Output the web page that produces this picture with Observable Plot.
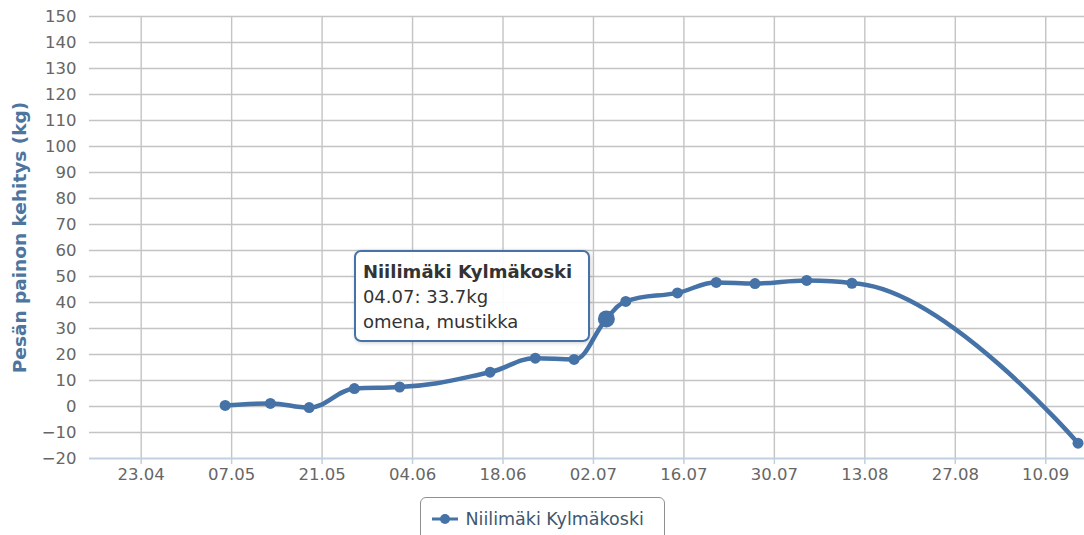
<!DOCTYPE html>
<html><head><meta charset="utf-8">
<script src="https://cdn.jsdelivr.net/npm/d3@7"></script>
<script src="https://cdn.jsdelivr.net/npm/@observablehq/plot@0.6"></script>
<style>
body{margin:0;background:#fff;font-family:"DejaVu Sans",Verdana,sans-serif;}
#wrap{position:relative;width:1084px;height:535px;overflow:hidden;}
.tip{position:absolute;box-sizing:border-box;border:2px solid #4572A7;border-radius:7px;background:rgba(255,255,255,0.92);box-shadow:1px 1px 4px rgba(0,0,0,0.18);padding:7px 0 0 7px;color:#333;font-size:18px;line-height:25px;white-space:nowrap;}
.tip b{font-weight:bold;}
.legend{box-sizing:border-box;width:245px;height:44px;margin:7px auto 0;border:1px solid #909090;border-radius:6px;display:flex;align-items:center;padding-left:11px;color:#3E576F;font-size:17.5px;white-space:nowrap;}
.legend svg{margin-right:8px;}
</style></head><body><div id="wrap"></div><script>
// ---- data ----
const seriesName = "Niilimäki Kylmäkoski";
const dates = ["2018-05-06","2018-05-13","2018-05-19","2018-05-26","2018-06-02","2018-06-16","2018-06-23","2018-06-29","2018-07-04","2018-07-07","2018-07-15","2018-07-21","2018-07-27","2018-08-04","2018-08-11","2018-09-15"];
const weights = [0.4, 1.2, -0.4, 6.9, 7.5, 13.2, 18.6, 18.1, 33.7, 40.4, 43.7, 47.7, 47.3, 48.5, 47.4, -14.1];
const hoverIndex = 8;
const hoverFoods = "omena, mustikka";
const yTicks = [-20,-10,0,10,20,30,40,50,60,70,80,90,100,110,120,130,140,150];
const xTicks = ["2018-04-23","2018-05-07","2018-05-21","2018-06-04","2018-06-18","2018-07-02","2018-07-16","2018-07-30","2018-08-13","2018-08-27","2018-09-10"];
const yTitle = "Pesän painon kehitys (kg)";

const data = dates.map((d, i) => ({date: d3.isoParse(d), value: weights[i]}));
const xTickDates = xTicks.map(d3.isoParse);
const fmt = d3.utcFormat("%d.%m");
const blue = "#4572A7";

// Highcharts-style spline curve
function hcSpline(context) {
  let pts;
  return {
    areaStart(){}, areaEnd(){},
    lineStart(){ pts = []; },
    point(x, y){ pts.push([+x, +y]); },
    lineEnd(){
      const s = 1.5, den = s + 1, n = pts.length, rc = [];
      for (let i = 0; i < n; i++) {
        const [x, y] = pts[i];
        let lcx = x, lcy = y, rcx = x, rcy = y;
        if (i > 0 && i < n - 1) {
          const [px, py] = pts[i-1], [nx, ny] = pts[i+1];
          lcx = (s*x + px)/den; lcy = (s*y + py)/den;
          rcx = (s*x + nx)/den; rcy = (s*y + ny)/den;
          const corr = ((rcy - lcy) * (rcx - x)) / (rcx - lcx) + y - rcy;
          lcy += corr; rcy += corr;
          if (lcy > py && lcy > y) { lcy = Math.max(py, y); rcy = 2*y - lcy; }
          else if (lcy < py && lcy < y) { lcy = Math.min(py, y); rcy = 2*y - lcy; }
          if (rcy > ny && rcy > y) { rcy = Math.max(ny, y); lcy = 2*y - rcy; }
          else if (rcy < ny && rcy < y) { rcy = Math.min(ny, y); lcy = 2*y - rcy; }
        }
        if (i === 0) context.moveTo(x, y);
        else { const [a, b] = rc[i-1]; context.bezierCurveTo(a, b, lcx, lcy, x, y); }
        rc.push([rcx, rcy]);
      }
    }
  };
}

const plot = Plot.plot({
  width: 1084, height: 490,
  marginTop: 16, marginBottom: 32, marginLeft: 89, marginRight: 0,
  style: {fontFamily: '"DejaVu Sans", Verdana, sans-serif', fontSize: "16.5px", background: "#fff", overflow: "visible"},
  x: {type: "utc", domain: [d3.isoParse("2018-04-15"), d3.isoParse("2018-09-16")]},
  y: {domain: [-20, 150]},
  marks: [
    Plot.gridY(yTicks, {stroke: "#c4c4c4", strokeOpacity: 1, strokeWidth: 1.4}),
    Plot.gridX(xTickDates, {stroke: "#c4c4c4", strokeOpacity: 1, strokeWidth: 1.4}),
    Plot.ruleY([-20], {stroke: "#C0D0E0", strokeWidth: 1.5}),
    Plot.axisX(xTickDates, {tickFormat: fmt, tickSize: 6, tickPadding: 4, stroke: "#C0D0E0", strokeWidth: 1.5, fill: "#666", label: null}),
    Plot.axisY(yTicks, {tickSize: 0, tickPadding: 13, fill: "#666", label: null}),
    Plot.text([yTitle], {frameAnchor: "left", textAnchor: "middle", rotate: -90, dx: -69, fill: "#4d759e", fontWeight: "bold", fontSize: 18.5}),
    Plot.line(data, {x: "date", y: "value", stroke: blue, strokeWidth: 4.5, curve: hcSpline}),
    Plot.dot(data, {x: "date", y: "value", r: 5.5, fill: blue}),
    Plot.dot([data[hoverIndex]], {x: "date", y: "value", r: 8.5, fill: blue})
  ]
});

const wrap = document.getElementById("wrap");
wrap.appendChild(plot);

// tooltip anchored to the hovered point via the scales
const hp = data[hoverIndex];
const px = plot.scale("x").apply(hp.date);
const py = plot.scale("y").apply(hp.value);
const tip = document.createElement("div");
tip.className = "tip";
const tw = 236, th = 92;
tip.style.width = tw + "px";
tip.style.height = th + "px";
tip.style.left = (px - 16 - tw) + "px";
tip.style.top = (py - 68) + "px";
tip.innerHTML = `<b></b><br><span class="v"></span><br><span class="f"></span>`;
tip.querySelector("b").textContent = seriesName;
tip.querySelector(".v").textContent = `${fmt(hp.date)}: ${hp.value}kg`;
tip.querySelector(".f").textContent = hoverFoods;
wrap.appendChild(tip);

// legend
const leg = document.createElement("div");
leg.className = "legend";
leg.innerHTML = `<svg width="26" height="12"><line x1="0" y1="6" x2="26" y2="6" stroke="${blue}" stroke-width="3"/><circle cx="13" cy="6" r="5" fill="${blue}"/></svg><span></span>`;
leg.querySelector("span").textContent = seriesName;
wrap.appendChild(leg);
</script></body></html>
